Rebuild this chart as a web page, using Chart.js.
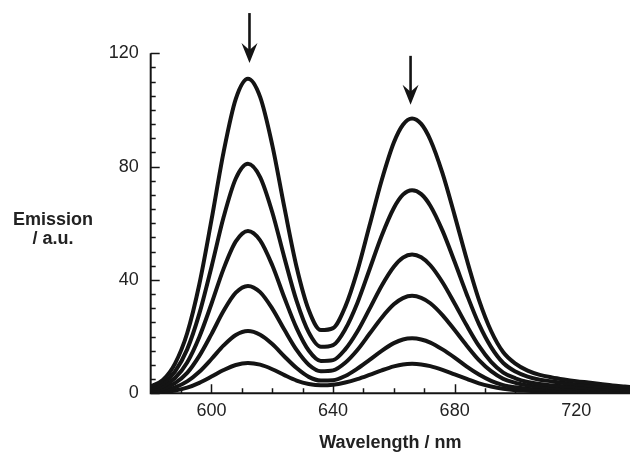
<!DOCTYPE html>
<html><head><meta charset="utf-8">
<script src="https://cdn.jsdelivr.net/npm/chart.js@4.4.1/dist/chart.umd.min.js"></script>
<style>html,body{margin:0;padding:0;background:#fff;overflow:hidden}canvas{display:block}</style>
</head><body>
<canvas id="c" width="630" height="454"></canvas>
<script>
// wavelength (nm)
const wavelengths = [580,584,588,592,596,600,604,608,612,616,620,624,628,632,636,640,644,648,652,656,660,663,666,669,672,676,680,684,688,692,696,700,704,708,712,716,720,724,728,732,736,740];
// emission spectra (a.u.), top to bottom
const emission1 = [2.4,4.7,10.5,21.2,38.5,61.2,85.2,103.9,111,104.6,87.6,65.5,44.6,29.4,22.3,23.0,30.5,43.2,59.2,75.2,88.5,94.8,97,95.1,89.5,77.7,62.8,47.2,33.0,22.0,14.5,10.5,8.0,6.5,5.6,4.9,4.3,3.8,3.3,2.8,2.4,2.0];
const emission2 = [1.8,3.4,7.7,15.5,28.1,44.6,62.2,75.8,81,76.3,63.9,47.8,32.6,21.5,16.4,17.0,22.6,31.9,43.7,55.6,65.4,70.1,71.7,70.3,66.2,57.4,46.4,34.9,24.4,16.3,10.7,7.7,5.9,4.8,4.2,3.6,3.2,2.8,2.4,2.1,1.8,1.5];
const emission3 = [1.3,2.4,5.4,10.9,19.9,31.6,44.0,53.6,57.3,54.0,45.2,33.7,23.0,15.1,11.4,11.7,15.5,21.8,29.8,38.0,44.7,47.9,49,48.0,45.2,39.2,31.7,23.9,16.7,11.1,7.3,5.3,4.0,3.3,2.8,2.5,2.2,1.9,1.7,1.4,1.2,1.0];
const emission4 = [0.8,1.6,3.6,7.2,13.2,20.9,29.1,35.5,37.9,35.7,29.9,22.4,15.3,10.1,7.8,8.1,10.8,15.3,21.0,26.7,31.4,33.6,34.4,33.7,31.8,27.6,22.3,16.8,11.7,7.8,5.1,3.7,2.8,2.3,2.0,1.7,1.5,1.3,1.2,1.0,0.9,0.7];
const emission5 = [0.5,0.9,2.1,4.2,7.6,12.1,16.9,20.6,22,20.7,17.4,13.0,8.9,5.8,4.5,4.6,6.1,8.7,11.8,15.0,17.7,19.0,19.4,19.0,17.9,15.5,12.6,9.4,6.6,4.4,2.9,2.1,1.6,1.3,1.1,1.0,0.9,0.8,0.7,0.6,0.5,0.4];
const emission6 = [0.2,0.5,1.0,2.0,3.7,5.9,8.2,10.0,10.7,10.1,8.5,6.4,4.5,3.3,2.8,3.0,3.8,5.0,6.5,8.1,9.5,10.2,10.4,10.2,9.6,8.3,6.7,5.1,3.5,2.4,1.6,1.1,0.9,0.7,0.6,0.5,0.5,0.4,0.35,0.3,0.26,0.22];
const xTickLabels = [600,640,680,720];
const yTickLabels = [0,40,80,120];
// arrows marking decreasing peaks
const arrowX = [612.5, 665.5];
const arrowTop = [134.2, 119.1];
const arrowTip = [116.6, 101.8];

const FAMILY = '"Liberation Sans", Arial, Helvetica, sans-serif';
const INK = '#141414';
const series = [emission1, emission2, emission3, emission4, emission5, emission6];

const decor = {
  id: 'decor',
  afterDraw(chart) {
    const {ctx, chartArea: a, scales: {x, y}} = chart;
    ctx.save();
    ctx.strokeStyle = INK;
    ctx.fillStyle = INK;
    // axes lines
    ctx.lineWidth = 2;
    ctx.beginPath();
    ctx.moveTo(a.left, y.getPixelForValue(y.max));
    ctx.lineTo(a.left, a.bottom);
    ctx.lineTo(a.right, a.bottom);
    ctx.stroke();
    // ticks (inward)
    ctx.lineWidth = 1.5;
    ctx.beginPath();
    for (let v = y.min; v <= y.max + 0.001; v += 5) {
      const p = Math.round(y.getPixelForValue(v)) + 0.5;
      const len = yTickLabels.includes(v) ? 9 : 5;
      ctx.moveTo(a.left, p); ctx.lineTo(a.left + len, p);
    }
    for (let v = 590; v <= x.max; v += 10) {
      const p = Math.round(x.getPixelForValue(v)) + 0.5;
      const len = xTickLabels.includes(v) ? 9 : 5;
      ctx.moveTo(p, a.bottom); ctx.lineTo(p, a.bottom - len);
    }
    ctx.stroke();
    // arrows
    ctx.lineWidth = 2.6;
    for (let i = 0; i < arrowX.length; i++) {
      const px = x.getPixelForValue(arrowX[i]);
      const pt = y.getPixelForValue(arrowTop[i]);
      const pb = y.getPixelForValue(arrowTip[i]);
      ctx.beginPath();
      ctx.moveTo(px, pt); ctx.lineTo(px, pb - 10);
      ctx.stroke();
      ctx.beginPath();
      ctx.moveTo(px, pb);
      ctx.lineTo(px - 8, pb - 20);
      ctx.lineTo(px, pb - 13);
      ctx.lineTo(px + 8, pb - 20);
      ctx.closePath();
      ctx.fill();
    }
    // y-axis title (horizontal)
    ctx.font = 'bold 18px ' + FAMILY;
    ctx.fillStyle = '#222';
    ctx.textAlign = 'center';
    ctx.textBaseline = 'alphabetic';
    ctx.fillText('Emission', 53, 225);
    ctx.fillText('/ a.u.', 53, 244);
    ctx.restore();
  }
};

new Chart(document.getElementById('c'), {
  type: 'line',
  data: {
    datasets: series.map(s => ({
      data: wavelengths.map((w, i) => ({x: w, y: s[i]})),
      borderColor: INK,
      borderWidth: 4,
      pointRadius: 0,
      fill: false,
      cubicInterpolationMode: 'monotone'
    }))
  },
  options: {
    responsive: false,
    animation: false,
    devicePixelRatio: 1,
    layout: {padding: {top: 53.3, left: 0, right: 0, bottom: 0}},
    plugins: {legend: {display: false}, tooltip: {enabled: false}},
    scales: {
      x: {
        type: 'linear', min: 580, max: 737.7,
        afterBuildTicks: s => { s.ticks = xTickLabels.map(v => ({value: v})); },
        afterFit: s => { s.height = 60.7; },
        grid: {display: false, drawTicks: false},
        border: {display: false},
        ticks: {padding: 7, color: '#222', font: {size: 18, family: FAMILY}, maxRotation: 0, autoSkip: false},
        title: {display: true, text: 'Wavelength / nm', color: '#222', font: {size: 18, weight: 'bold', family: FAMILY}, padding: {top: 0, bottom: 0}}
      },
      y: {
        type: 'linear', min: 0, max: 120,
        afterBuildTicks: s => { s.ticks = yTickLabels.map(v => ({value: v})); },
        afterFit: s => { s.width = 150.7; },
        grid: {display: false, drawTicks: false},
        border: {display: false},
        ticks: {padding: 12, color: '#222', font: {size: 18, family: FAMILY}}
      }
    }
  },
  plugins: [decor]
});
</script>
</body></html>
